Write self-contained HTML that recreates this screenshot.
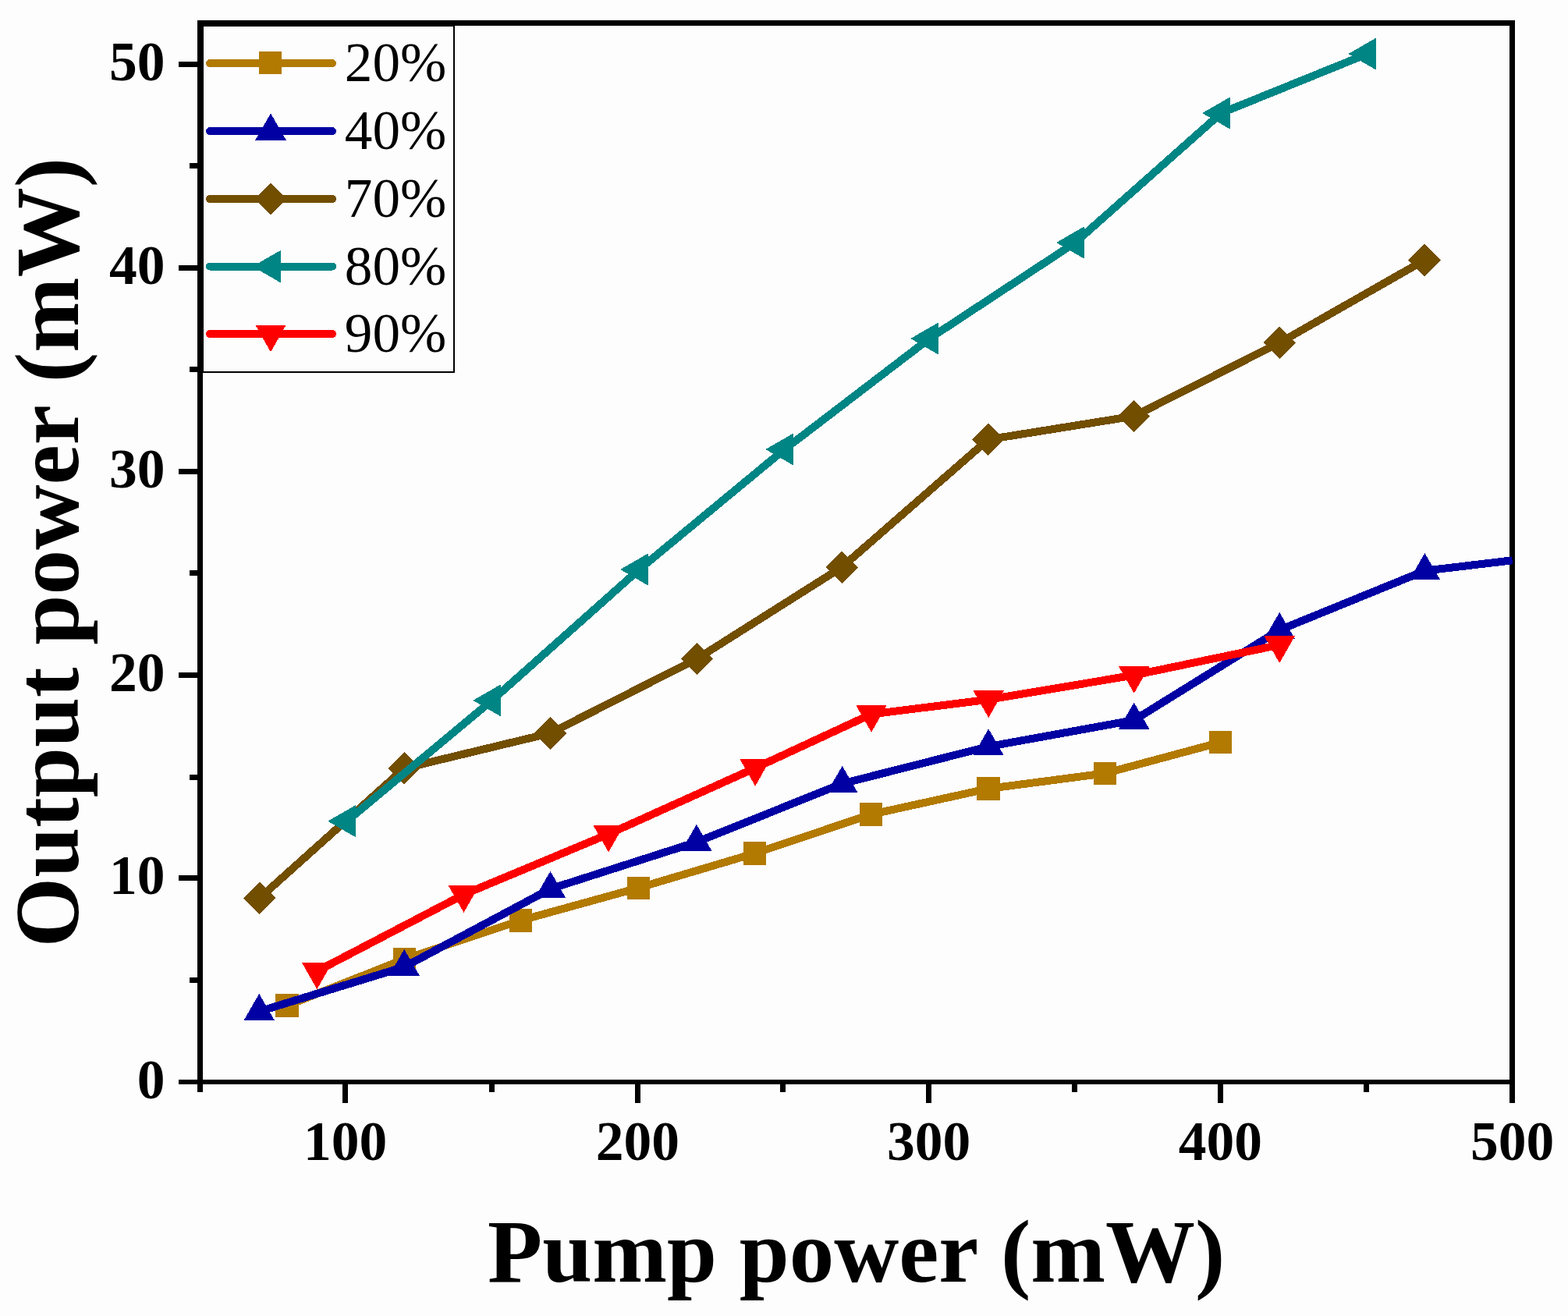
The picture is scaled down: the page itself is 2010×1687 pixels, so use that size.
<!DOCTYPE html>
<html lang="en"><head><meta charset="utf-8"><title>Output power vs pump power</title>
<style>
html,body{margin:0;padding:0;background:#fdfdfd;}
body{width:2010px;height:1687px;overflow:hidden;}
svg{display:block;}
text{font-family:"Liberation Serif","Times New Roman",serif;fill:#000;font-kerning:none;}
.tk{font-size:71.5px;font-weight:bold;}
.ti{font-size:115px;font-weight:bold;}
.lg{font-size:71.2px;font-weight:normal;}
</style></head><body>
<svg width="2010" height="1687" viewBox="0 0 2010 1687">
<rect x="0" y="0" width="2010" height="1687" fill="#fdfdfd"/>
<defs><clipPath id="plot"><rect x="257" y="30" width="1682" height="1357"/></clipPath></defs>
<g fill="#000" shape-rendering="crispEdges">
<rect x="253" y="26" width="7" height="1374"/>
<rect x="1935" y="26" width="7" height="1388"/>
<rect x="253" y="26" width="1689" height="7"/>
<rect x="229" y="1384" width="1713" height="6"/>
<rect x="229" y="79" width="24" height="7"/>
<rect x="229" y="340" width="24" height="7"/>
<rect x="229" y="601" width="24" height="7"/>
<rect x="229" y="862" width="24" height="7"/>
<rect x="229" y="1122" width="24" height="7"/>
<rect x="243" y="209" width="10" height="7"/>
<rect x="243" y="470" width="10" height="7"/>
<rect x="243" y="731" width="10" height="7"/>
<rect x="243" y="993" width="10" height="7"/>
<rect x="243" y="1253" width="10" height="7"/>
<rect x="439" y="1390" width="7" height="24"/>
<rect x="814" y="1390" width="7" height="24"/>
<rect x="1187" y="1390" width="7" height="24"/>
<rect x="1561" y="1390" width="7" height="24"/>
<rect x="627" y="1390" width="7" height="10"/>
<rect x="1000" y="1390" width="7" height="10"/>
<rect x="1374" y="1390" width="7" height="10"/>
<rect x="1748" y="1390" width="7" height="10"/>
</g>
<g class="tk" text-anchor="end">
<text x="211.6" y="103.1">50</text>
<text x="211.6" y="364.1">40</text>
<text x="211.6" y="625.1">30</text>
<text x="211.6" y="886.1">20</text>
<text x="211.6" y="1146.1">10</text>
<text x="211.6" y="1407.6">0</text>
</g>
<g class="tk" text-anchor="middle">
<text x="442.5" y="1487.2">100</text>
<text x="817.4" y="1487.2">200</text>
<text x="1190.5" y="1487.2">300</text>
<text x="1564.4" y="1487.2">400</text>
<text x="1938.5" y="1487.2">500</text>
</g>
<text class="ti" x="1097.7" y="1642.5" text-anchor="middle">Pump power (mW)</text>
<text class="ti" style="font-size:115.4px" transform="translate(100.2,708.2) rotate(-90)" text-anchor="middle">Output power (mW)</text>
<g clip-path="url(#plot)" shape-rendering="crispEdges">
<polyline points="368,1289.1 518.3,1229.6 667.4,1179.9 818.2,1138.3 967.2,1094 1116.6,1044 1266.8,1011 1416.4,991.4 1564.6,951.6" fill="none" stroke="#b27a00" stroke-width="10" stroke-linejoin="round" stroke-linecap="butt"/>
<rect x="353.2" y="1274.3" width="29.5" height="29.5" fill="#b27a00"/>
<rect x="503.5" y="1214.8" width="29.5" height="29.5" fill="#b27a00"/>
<rect x="652.6" y="1165.2" width="29.5" height="29.5" fill="#b27a00"/>
<rect x="803.5" y="1123.5" width="29.5" height="29.5" fill="#b27a00"/>
<rect x="952.5" y="1079.2" width="29.5" height="29.5" fill="#b27a00"/>
<rect x="1101.8" y="1029.2" width="29.5" height="29.5" fill="#b27a00"/>
<rect x="1252" y="996.2" width="29.5" height="29.5" fill="#b27a00"/>
<rect x="1401.7" y="976.6" width="29.5" height="29.5" fill="#b27a00"/>
<rect x="1549.8" y="936.9" width="29.5" height="29.5" fill="#b27a00"/>
<polyline points="332.2,1296.6 518.2,1239.5 705.5,1139.5 892.9,1079.5 1079.7,1004.5 1267.2,957 1453.7,923.2 1640.2,807.6 1826.4,731.7 1938.7,718.3" fill="none" stroke="#0000a3" stroke-width="10" stroke-linejoin="round" stroke-linecap="butt"/>
<polygon points="332.2,1273.9 351.9,1308 312.5,1308" fill="#0000a3"/>
<polygon points="518.2,1216.8 537.9,1250.9 498.5,1250.9" fill="#0000a3"/>
<polygon points="705.5,1116.8 725.2,1150.9 685.8,1150.9" fill="#0000a3"/>
<polygon points="892.9,1056.8 912.6,1090.9 873.2,1090.9" fill="#0000a3"/>
<polygon points="1079.7,981.8 1099.4,1015.9 1060,1015.9" fill="#0000a3"/>
<polygon points="1267.2,934.3 1286.9,968.4 1247.5,968.4" fill="#0000a3"/>
<polygon points="1453.7,900.5 1473.4,934.6 1434,934.6" fill="#0000a3"/>
<polygon points="1640.2,784.9 1659.9,819 1620.5,819" fill="#0000a3"/>
<polygon points="1826.4,709 1846.1,743.1 1806.7,743.1" fill="#0000a3"/>
<polyline points="332.6,1151.4 518.2,985 705.4,939.9 893.5,844.5 1079.2,727.1 1266.8,563.4 1453.6,533.5 1640.4,439.3 1826.2,333.5" fill="none" stroke="#724e00" stroke-width="10" stroke-linejoin="round" stroke-linecap="butt"/>
<polygon points="332.6,1130.6 353.4,1151.4 332.6,1172.2 311.8,1151.4" fill="#724e00"/>
<polygon points="518.2,964.2 539,985 518.2,1005.8 497.4,985" fill="#724e00"/>
<polygon points="705.4,919.1 726.2,939.9 705.4,960.7 684.6,939.9" fill="#724e00"/>
<polygon points="893.5,823.7 914.3,844.5 893.5,865.3 872.7,844.5" fill="#724e00"/>
<polygon points="1079.2,706.3 1100,727.1 1079.2,747.9 1058.4,727.1" fill="#724e00"/>
<polygon points="1266.8,542.6 1287.6,563.4 1266.8,584.2 1246,563.4" fill="#724e00"/>
<polygon points="1453.6,512.7 1474.4,533.5 1453.6,554.3 1432.8,533.5" fill="#724e00"/>
<polygon points="1640.4,418.5 1661.2,439.3 1640.4,460.1 1619.6,439.3" fill="#724e00"/>
<polygon points="1826.2,312.7 1847,333.5 1826.2,354.3 1805.4,333.5" fill="#724e00"/>
<polyline points="444.5,1052.7 630.6,897.9 819.4,730 1005.7,576 1191.5,434 1378.3,311 1565.4,145 1752.7,69.1" fill="none" stroke="#008585" stroke-width="10" stroke-linejoin="round" stroke-linecap="butt"/>
<polygon points="420.2,1052.7 456.1,1032 456.1,1073.4" fill="#008585"/>
<polygon points="606.3,897.9 642.2,877.2 642.2,918.6" fill="#008585"/>
<polygon points="795.1,730 831,709.3 831,750.7" fill="#008585"/>
<polygon points="981.4,576 1017.3,555.3 1017.3,596.7" fill="#008585"/>
<polygon points="1167.2,434 1203.1,413.3 1203.1,454.7" fill="#008585"/>
<polygon points="1354,311 1389.9,290.3 1389.9,331.7" fill="#008585"/>
<polygon points="1541.1,145 1577,124.3 1577,165.7" fill="#008585"/>
<polygon points="1728.4,69.1 1764.3,48.4 1764.3,89.8" fill="#008585"/>
<polyline points="406.4,1244.9 594.5,1146.7 780.1,1069.2 968.1,984.5 1117,915.5 1267.2,896.8 1453.7,865.5 1640.2,826.7" fill="none" stroke="#ff0000" stroke-width="10" stroke-linejoin="round" stroke-linecap="butt"/>
<polygon points="406.4,1268.2 426.1,1233.5 386.7,1233.5" fill="#ff0000"/>
<polygon points="594.5,1170 614.2,1135.3 574.8,1135.3" fill="#ff0000"/>
<polygon points="780.1,1092.5 799.8,1057.8 760.4,1057.8" fill="#ff0000"/>
<polygon points="968.1,1007.8 987.8,973.1 948.4,973.1" fill="#ff0000"/>
<polygon points="1117,938.8 1136.7,904.1 1097.3,904.1" fill="#ff0000"/>
<polygon points="1267.2,920.1 1286.9,885.4 1247.5,885.4" fill="#ff0000"/>
<polygon points="1453.7,888.8 1473.4,854.1 1434,854.1" fill="#ff0000"/>
<polygon points="1640.2,850 1659.9,815.3 1620.5,815.3" fill="#ff0000"/>
</g>
<rect x="260" y="33" width="322" height="444" fill="#fdfdfd" stroke="#000" stroke-width="2" shape-rendering="crispEdges"/>
<g shape-rendering="crispEdges">
<line x1="269" y1="81.2" x2="426" y2="81.2" stroke="#b27a00" stroke-width="10" stroke-linecap="round"/>
<rect x="332" y="66" width="29" height="29" fill="#b27a00"/>
<line x1="269" y1="168.1" x2="426" y2="168.1" stroke="#0000a3" stroke-width="10" stroke-linecap="round"/>
<polygon points="347,145.4 366.7,179.5 327.3,179.5" fill="#0000a3"/>
<line x1="269" y1="255" x2="426" y2="255" stroke="#724e00" stroke-width="10" stroke-linecap="round"/>
<polygon points="347,234.2 367.8,255 347,275.8 326.2,255" fill="#724e00"/>
<line x1="269" y1="341.6" x2="426" y2="341.6" stroke="#008585" stroke-width="10" stroke-linecap="round"/>
<polygon points="323.7,341.6 359.6,320.9 359.6,362.3" fill="#008585"/>
<line x1="269" y1="428" x2="426" y2="428" stroke="#ff0000" stroke-width="10" stroke-linecap="round"/>
<polygon points="347,451.3 366.7,416.6 327.3,416.6" fill="#ff0000"/>
</g>
<g class="lg">
<text x="441.8" y="104.4">20%</text>
<text x="441.8" y="191.3">40%</text>
<text x="441.8" y="278.2">70%</text>
<text x="441.8" y="364.8">80%</text>
<text x="441.8" y="451.2">90%</text>
</g>
</svg>
</body></html>
